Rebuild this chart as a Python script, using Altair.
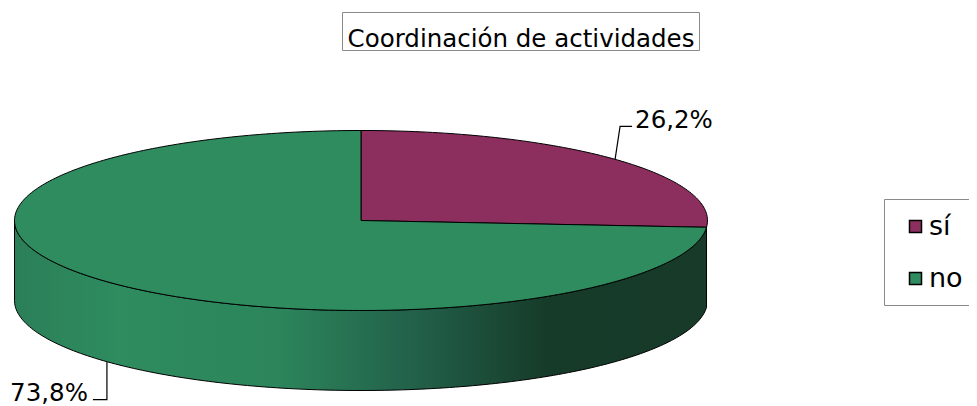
import numpy as np
import pandas as pd
import altair as alt

# ---- data ----
categories = ["sí", "no"]
percent = [26.2, 73.8]
labels = ["26,2%", "73,8%"]
colors = ["#8c2f5f", "#2e8c5f"]
title_text = ["Coordinación de actividades"]

# ---- geometry of the tilted pie (style constants) ----
CX, CY = 353.0, 212.5      # centre of the top face in px
RX = 346.5                 # horizontal radius in px (projection scale)
E = 90.0 / RX              # vertical squash of the ellipse
D = 80.0 / RX              # depth of the disc
FONT = "DejaVu Sans"
proj = dict(type="identity", reflectY=True, scale=RX, translate=[CX, CY])


def pt(theta_deg, drop=0.0):
    t = np.radians(theta_deg)
    return [float(np.sin(t)), float(E * np.cos(t) - drop)]


bounds = np.concatenate([[0.0], np.cumsum(percent)]) / 100.0 * 360.0

top_features, wall_features, leader_features = [], [], []
text_rows = []
for i, (cat, a0, a1) in enumerate(zip(categories, bounds[:-1], bounds[1:])):
    n = max(int(a1 - a0) + 2, 3)
    arc = [pt(a) for a in np.linspace(a0, a1, n)]
    ring = [[0.0, 0.0]] + arc + [[0.0, 0.0]]
    top_features.append({"type": "Feature", "properties": {"cat": cat},
                         "geometry": {"type": "Polygon", "coordinates": [ring]}})
    w0, w1 = max(a0, 90.0), min(a1, 270.0)
    if w1 - w0 > 10:
        angs = np.linspace(w0, w1, int(w1 - w0) + 2)
        ring = [pt(a) for a in angs] + [pt(a, D) for a in angs[::-1]]
        ring.append(ring[0])
        wall_features.append({"type": "Feature", "properties": {"cat": cat},
                              "geometry": {"type": "Polygon", "coordinates": [ring]}})
    mid = (a0 + a1) / 2.0
    front = 90.0 < mid < 270.0
    anchor = pt(mid, D if front else 0.0)
    if not front:
        elbow = [anchor[0] + 5 / RX, anchor[1] + 33 / RX]
        end = [elbow[0] + 12 / RX, elbow[1]]
        txt = [end[0] + 3 / RX, end[1] - 2 / RX]
        align = "left"
    else:
        elbow = [anchor[0], anchor[1] - 38 / RX]
        end = [elbow[0] - 14 / RX, elbow[1]]
        txt = [end[0] - 5 / RX, end[1] - 1 / RX]
        align = "right"
    leader_features.append({"type": "Feature", "properties": {"cat": cat},
                            "geometry": {"type": "LineString",
                                         "coordinates": [anchor, elbow, end]}})
    text_rows.append({"lon": txt[0], "lat": txt[1], "label": labels[i], "align": align})

texts = pd.DataFrame(text_rows)

wall_gradient = alt.Gradient(
    gradient="linear", x1=0, x2=1, y1=0, y2=0,
    stops=[
        alt.GradientStop(color="#2b7f58", offset=0.0),
        alt.GradientStop(color="#2e8c5f", offset=0.15),
        alt.GradientStop(color="#2c855b", offset=0.38),
        alt.GradientStop(color="#22604a", offset=0.58),
        alt.GradientStop(color="#163b29", offset=0.77),
        alt.GradientStop(color="#173a29", offset=1.0),
    ],
)

wall = alt.Chart(alt.Data(values=wall_features)).mark_geoshape(
    fill=wall_gradient, stroke="black", strokeWidth=1
).project(**proj)

frame_df = pd.DataFrame({"t": title_text})
legend_box = alt.Chart(frame_df).mark_rect(
    fill="white", stroke="#8a8a8a", strokeWidth=1
).encode(x=alt.value(876.5), x2=alt.value(990), y=alt.value(191.5), y2=alt.value(297.5))

top = alt.Chart(alt.Data(values=top_features)).mark_geoshape(
    stroke="black", strokeWidth=1, fillOpacity=1
).encode(
    color=alt.Color(
        "properties.cat:N",
        scale=alt.Scale(domain=categories, range=colors),
        legend=alt.Legend(
            title=None, orient="none", legendX=885, legendY=205,
            padding=0, labelFontSize=27, labelFont=FONT, labelColor="black",
            symbolType="square", symbolSize=144, symbolStrokeColor="black",
            symbolStrokeWidth=1.5, rowPadding=24, symbolOffset=9,
            labelOffset=0, labelLimit=200, symbolOpacity=1,
        ),
    )
).project(**proj)

leaders = alt.Chart(alt.Data(values=leader_features)).mark_geoshape(
    filled=False, stroke="black", strokeWidth=1.2
).project(**proj)

label_layers = []
for al in ["left", "right"]:
    label_layers.append(
        alt.Chart(texts[texts["align"] == al]).mark_text(
            align=al, baseline="alphabetic", font=FONT, fontSize=24.5, color="black"
        ).encode(longitude="lon:Q", latitude="lat:Q", text="label:N").project(**proj)
    )

title_box = alt.Chart(frame_df).mark_rect(
    fill="white", stroke="#8a8a8a", strokeWidth=1
).encode(x=alt.value(334.5), x2=alt.value(691.5), y=alt.value(4.5), y2=alt.value(42.5))
title_txt = alt.Chart(frame_df).mark_text(
    align="center", baseline="alphabetic", font=FONT, fontSize=24.5, color="black"
).encode(x=alt.value(513), y=alt.value(38.5), text="t:N")

chart = alt.layer(legend_box, wall, top, leaders, *label_layers, title_box, title_txt).properties(
    width=961, height=398, padding=0,
    autosize=alt.AutoSizeParams(type="none"),
    background="white",
).configure_view(stroke=None)

chart.save("out.html", embed_options={"renderer": "svg", "actions": False})
